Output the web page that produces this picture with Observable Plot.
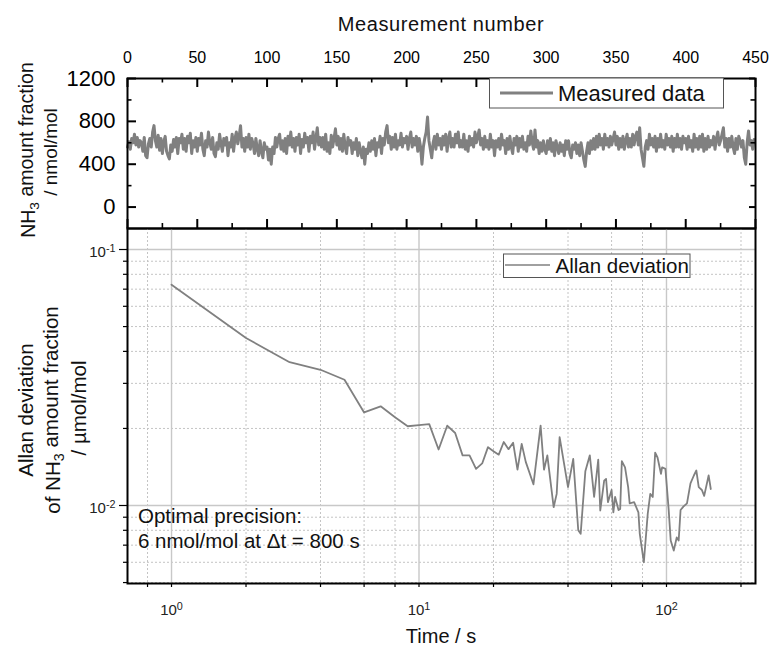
<!DOCTYPE html>
<html><head><meta charset="utf-8">
<script src="https://cdn.jsdelivr.net/npm/d3@7"></script>
<script src="https://cdn.jsdelivr.net/npm/@observablehq/plot@0.6"></script>
<style>
body{margin:0;background:#fff}
#chart{position:relative;width:771px;height:646px;overflow:hidden}
#chart svg{position:absolute;left:0;overflow:visible}
</style>
</head><body><div id="chart"></div>
<script>
const FONT = '"Liberation Sans", Arial, Helvetica, sans-serif';

// Measured NH3 amount fraction (nmol/mol) per measurement number 0..449
const measured = [
560,610,540,640,600,680,580,650,560,620,
600,520,650,480,460,590,640,560,700,760,
620,560,670,530,640,500,610,660,520,480,
450,580,520,630,560,650,500,640,600,680,
540,640,520,660,600,690,500,620,560,650,
520,640,580,690,540,480,620,560,700,600,
540,650,500,470,600,540,680,590,520,640,
580,650,480,600,560,680,520,640,700,590,
660,760,560,640,520,650,560,680,540,640,
590,500,640,540,480,620,520,460,600,540,
560,440,540,400,560,500,650,560,640,680,
540,620,520,640,500,660,580,700,560,640,
520,650,580,680,500,630,560,690,600,650,
520,660,600,700,540,640,740,580,650,560,
650,540,680,520,600,500,670,560,640,730,
580,660,540,640,520,680,560,500,650,580,
620,500,600,540,640,480,600,520,460,560,
400,540,500,600,520,620,540,640,480,600,
560,660,500,640,580,700,760,600,660,540,
650,560,680,540,620,580,690,560,640,600,
660,540,640,700,560,640,580,660,520,640,
560,400,560,640,700,840,620,540,460,600,
660,540,680,580,640,540,660,580,680,520,
640,700,560,640,560,680,600,700,560,620,
560,680,540,620,520,660,580,640,560,700,
600,660,720,580,640,540,660,560,620,540,
680,560,620,480,620,560,640,540,680,580,
620,500,640,540,660,560,500,640,580,660,
520,640,560,660,540,600,520,660,580,710,
600,540,720,560,620,500,600,520,620,540,
500,620,540,640,520,600,480,620,560,500,
600,520,580,480,620,540,620,500,460,580,
540,600,500,580,480,600,520,440,380,520,
600,500,620,540,640,540,660,560,680,580,
640,540,680,580,640,560,660,580,640,700,
580,660,540,640,560,660,540,620,680,560,
640,560,680,580,660,700,580,740,540,460,
380,560,620,540,680,580,640,560,660,520,
640,560,680,560,620,540,680,580,640,560,
660,520,640,560,680,560,640,540,660,600,
640,540,660,560,620,520,680,560,640,540,
660,560,680,520,640,540,660,560,620,580,
660,540,640,700,580,620,680,740,560,640,
520,640,560,660,560,500,640,540,660,620,
560,620,460,400,600,710,580,620,540,630
];

// Allan deviation (µmol/mol) vs averaging time (s)
const allanTau = [1,2,3,4,5,6,7,8,9,10,11,12,13,14,15,16,17,18,19,20,21,22,23,24,25,26,27,29,31,32,33,35,36,37,40,42,44,45,47,49,51,53,54,56,57,58,60,61,62,64,65,66,68,70,71,74,77,78,81,84,86,88,90,92,95,96,99,102,104,107,110,112,114,117,121,125,129,132,135,139,142,148,151];
const allanDev = [0.0729,0.0451,0.0363,0.0339,0.0310,0.0231,0.0244,0.0221,0.0204,0.0206,0.0208,0.01655,0.0205,0.0192,0.0157,0.0157,0.0139,0.0146,0.0169,0.0163,0.0158,0.0177,0.0166,0.0176,0.0138,0.0174,0.0148,0.0121,0.0205,0.0138,0.0157,0.00985,0.0111,0.0185,0.0118,0.0152,0.0080,0.00775,0.0136,0.0157,0.0108,0.0151,0.00956,0.0125,0.0127,0.0103,0.0115,0.0094,0.0108,0.0096,0.0097,0.0149,0.0141,0.0118,0.0102,0.0103,0.0094,0.00775,0.0060,0.0093,0.0111,0.0108,0.0161,0.0154,0.0133,0.0141,0.0139,0.0097,0.0073,0.00667,0.0075,0.0073,0.0096,0.0099,0.0102,0.0122,0.0131,0.0137,0.0118,0.0115,0.0109,0.0131,0.0116];

// Tick values
const topXTicks = [0,50,100,150,200,250,300,350,400,450];
const topXMinor = [25,75,125,175,225,275,325,375,425];
const topYTicks = [0,400,800,1200];
const topYMinor = [200,600,1000];
const logXMajor = [1,10,100];
const logXMinor = [0.8,2,4,6,8,20,40,60,80,200];
const logYMajor = [0.01,0.1];
const logYMinor = [0.005,0.006,0.007,0.008,0.009,0.02,0.03,0.04,0.05,0.06,0.07,0.08,0.09];

const measuredData = measured.map((v,i)=>({n:i, v}));
const allanData = allanTau.map((t,i)=>({t, d:allanDev[i]}));

const W = 771, ML = 127, MR = 16;
const TOP_MT = 78, TOP_H = 229, TOP_MB = 1;
const LINE = "#808080";
const TICK = "#000";
const blank = () => "";

const topX = [0, 450], topY = [-200, 1200];
// pixel -> data-unit conversion for inward tick lengths
const pxX = (topX[1] - topX[0]) / (W - ML - MR);
const pxY = (topY[1] - topY[0]) / (TOP_H - TOP_MT - TOP_MB);
function inTicks(values, side, len, sw) {
  const o = {stroke: TICK, strokeWidth: sw};
  if (side === "top") return Plot.ruleX(values, {x: d => d, y1: topY[1], y2: topY[1] - len * pxY, ...o});
  if (side === "bottom") return Plot.ruleX(values, {x: d => d, y1: topY[0], y2: topY[0] + len * pxY, ...o});
  if (side === "left") return Plot.ruleY(values, {y: d => d, x1: topX[0], x2: topX[0] + len * pxX, ...o});
  return Plot.ruleY(values, {y: d => d, x1: topX[1], x2: topX[1] - len * pxX, ...o});
}

const topPlot = Plot.plot({
  width: W, height: TOP_H, marginLeft: ML, marginRight: MR, marginTop: TOP_MT, marginBottom: TOP_MB,
  style: {fontFamily: FONT, background: "transparent", color: "#000", overflow: "visible"},
  x: {domain: topX, label: null},
  y: {domain: topY, label: null},
  marks: [
    Plot.line(measuredData, {x: "n", y: "v", stroke: LINE, strokeWidth: 3}),
    Plot.axisX(topXTicks, {anchor: "top", tickSize: 0, tickPadding: 16, fontSize: 16, label: null, tickFormat: d => String(d)}),
    Plot.axisY(topYTicks, {anchor: "left", tickSize: 0, tickPadding: 12, fontSize: 22, label: null, tickFormat: d => String(d)}),
    inTicks(topXTicks, "top", 9, 2),
    inTicks(topXMinor, "top", 4.5, 1.6),
    inTicks(topXTicks, "bottom", 9, 2),
    inTicks(topXMinor, "bottom", 5, 1.6),
    inTicks(topYTicks, "left", 9, 2),
    inTicks(topYMinor, "left", 4.5, 1.6),
    inTicks(topYTicks, "right", 6, 2),
    inTicks(topYMinor, "right", 4.5, 1.6),
    Plot.frame({stroke: "#000", strokeWidth: 2})
  ]
});
topPlot.style.top = "0px";

const supFmt = t => "10|" + Math.round(Math.log10(t));

const botPlot = Plot.plot({
  width: W, height: 418, marginLeft: ML, marginRight: MR, marginTop: 0, marginBottom: 63,
  style: {fontFamily: FONT, background: "transparent", color: "#000", overflow: "visible"},
  x: {type: "log", domain: [0.664, 228.9], label: null},
  y: {type: "log", domain: [0.004958, 0.1208], label: null},
  marks: [
    Plot.gridX(logXMinor, {stroke: "#c4c4c4", strokeOpacity: 1, strokeWidth: 1, strokeDasharray: "2,2"}),
    Plot.gridY(logYMinor, {stroke: "#c4c4c4", strokeOpacity: 1, strokeWidth: 1, strokeDasharray: "2,2"}),
    Plot.gridX(logXMajor, {stroke: "#c8c8c8", strokeOpacity: 1, strokeWidth: 1.4}),
    Plot.gridY(logYMajor, {stroke: "#c8c8c8", strokeOpacity: 1, strokeWidth: 1.4}),
    Plot.line(allanData, {x: "t", y: "d", stroke: LINE, strokeWidth: 1.8}),
    Plot.axisX(logXMajor, {anchor: "bottom", tickSize: 0, tickPadding: 21, fontSize: 15, tickFormat: supFmt, label: null, fill: "#222"}),
    Plot.axisX(logXMajor.concat(logXMinor), {anchor: "bottom", tickSize: 4, strokeWidth: 1.2, tickFormat: blank, label: null}),
    Plot.axisY(logYMajor, {anchor: "left", tickSize: 0, tickPadding: 12, fontSize: 15, dy: 3, tickFormat: supFmt, label: null, fill: "#222"}),
    Plot.axisY(logYMajor, {anchor: "left", tickSize: 8, strokeWidth: 1.2, tickFormat: blank, label: null}),
    Plot.axisY(logYMinor, {anchor: "left", tickSize: 4, strokeWidth: 1.2, tickFormat: blank, label: null}),
    Plot.frame({stroke: "#000", strokeWidth: 2})
  ]
});
botPlot.style.top = "228px";

const chart = document.getElementById("chart");
chart.appendChild(topPlot);
chart.appendChild(botPlot);

// Superscript tick labels (10^n)
d3.select(botPlot).selectAll("text").each(function() {
  const s = this.textContent;
  if (!s || !s.includes("|")) return;
  const [b, e] = s.split("|");
  const t = d3.select(this);
  t.text(null);
  t.append("tspan").text(b);
  t.append("tspan").attr("dy", "-0.5em").attr("font-size", "0.72em").text(e);
});

// Overlay: titles, legends, annotation
const ov = d3.select(chart).append("svg")
  .attr("width", W).attr("height", 646)
  .style("top", "0px").style("pointer-events", "none")
  .attr("font-family", FONT).attr("fill", "#111");

function subText(g, parts, size) {
  const t = g.append("text").attr("font-size", size).attr("text-anchor", "middle");
  parts.forEach(p => {
    if (p.sub) t.append("tspan").attr("dy", "0.28em").attr("font-size", "0.7em").text(p.s);
    else if (p.after) t.append("tspan").attr("dy", "-0.28em").text(p.s);
    else t.append("tspan").text(p.s);
  });
  return t;
}

ov.append("text").attr("x", 441).attr("y", 31).attr("text-anchor", "middle")
  .attr("font-size", 20).attr("letter-spacing", 0.6).text("Measurement number");

subText(ov.append("g").attr("transform", "translate(35,150) rotate(-90)"),
  [{s: "NH"}, {s: "3", sub: true}, {s: " amount fraction", after: true}], 19.5);
ov.append("text").attr("transform", "translate(57,152) rotate(-90)").attr("text-anchor", "middle")
  .attr("font-size", 19).text("/ nmol/mol");

ov.append("text").attr("transform", "translate(33,410) rotate(-90)").attr("text-anchor", "middle")
  .attr("font-size", 20.5).text("Allan deviation");
subText(ov.append("g").attr("transform", "translate(60,410) rotate(-90)"),
  [{s: "of NH"}, {s: "3", sub: true}, {s: " amount fraction", after: true}], 20.5);
ov.append("text").attr("transform", "translate(86,408) rotate(-90)").attr("text-anchor", "middle")
  .attr("font-size", 20.5).text("/ µmol/mol");

ov.append("text").attr("x", 441).attr("y", 643).attr("text-anchor", "middle")
  .attr("font-size", 20).text("Time / s");

// legend: measured data
ov.append("rect").attr("x", 489.5).attr("y", 78).attr("width", 234).attr("height", 30)
  .attr("fill", "#fff").attr("stroke", "#555").attr("stroke-width", 1);
ov.append("line").attr("x1", 500).attr("x2", 553).attr("y1", 93).attr("y2", 93)
  .attr("stroke", LINE).attr("stroke-width", 3);
ov.append("text").attr("x", 558).attr("y", 100.5).attr("font-size", 22).text("Measured data");

// legend: Allan deviation
ov.append("rect").attr("x", 503.5).attr("y", 254).attr("width", 186.5).attr("height", 23.5)
  .attr("fill", "#fff").attr("stroke", "#555").attr("stroke-width", 1);
ov.append("line").attr("x1", 505).attr("x2", 550).attr("y1", 265).attr("y2", 265)
  .attr("stroke", LINE).attr("stroke-width", 1.6);
ov.append("text").attr("x", 555.5).attr("y", 272.5).attr("font-size", 20.5).text("Allan deviation");

// annotation
ov.append("text").attr("x", 138).attr("y", 523).attr("font-size", 20.5).text("Optimal precision:");
ov.append("text").attr("x", 138).attr("y", 548).attr("font-size", 20.5).text("6 nmol/mol at Δt = 800 s");
</script>
</body></html>
